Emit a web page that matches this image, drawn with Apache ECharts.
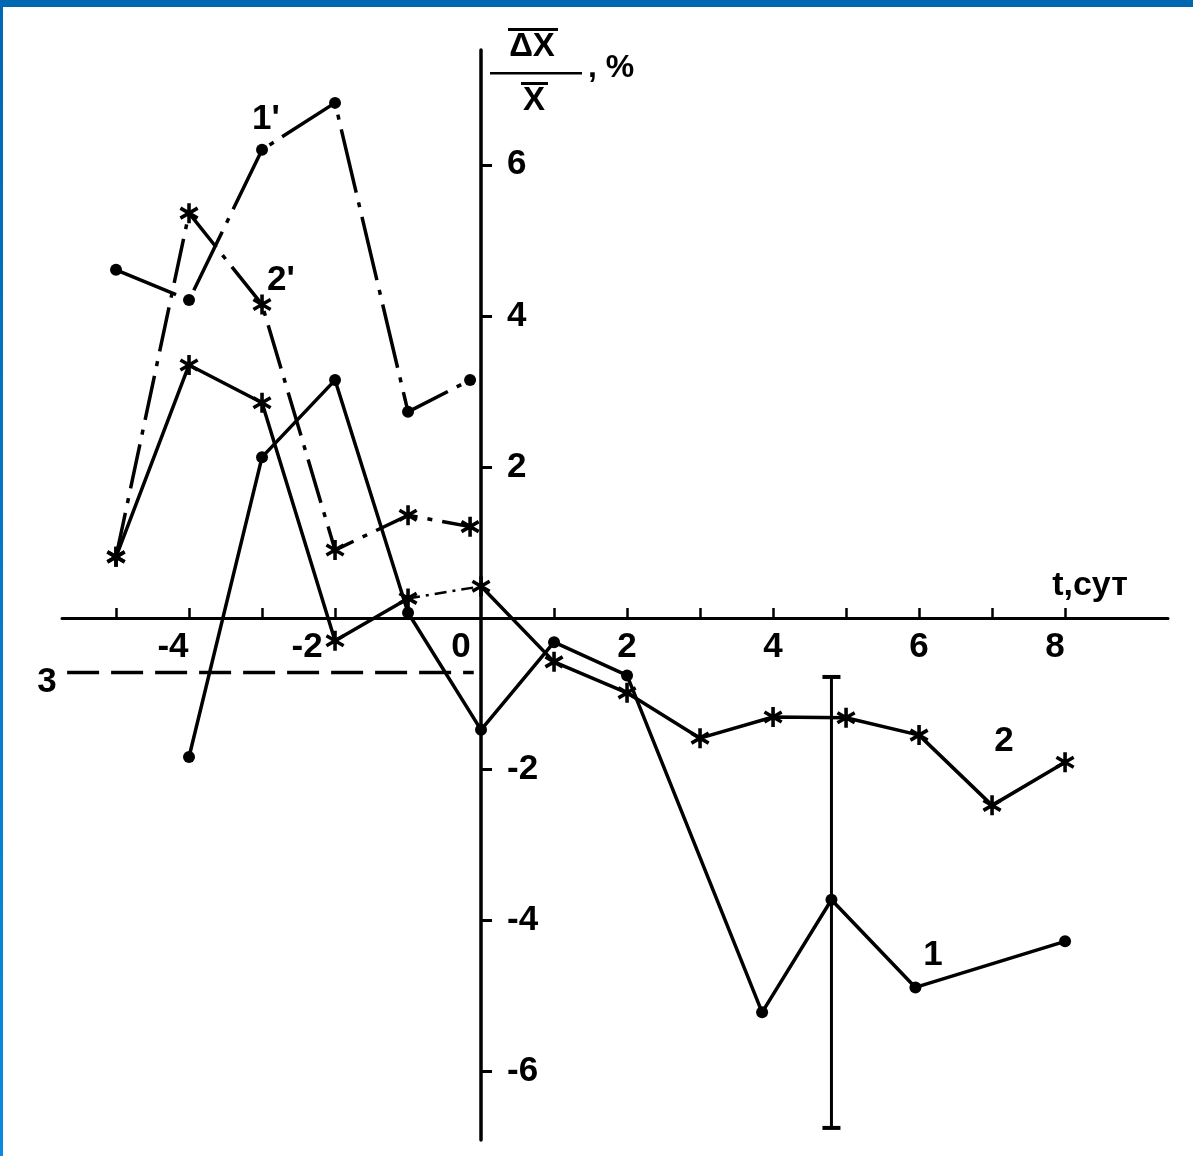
<!DOCTYPE html>
<html>
<head>
<meta charset="utf-8">
<script src="https://cdn.jsdelivr.net/npm/echarts@6/dist/echarts.min.js"></script>
<style>
html,body{margin:0;padding:0;background:#fff;}
#chart{width:1193px;height:1156px;}
</style>
</head>
<body>
<div id="chart"></div>
<script>
// ---- axis ticks / labels ----
const xTickValues = [-5, -4, -3, -2, -1, 1, 2, 3, 4, 5, 6, 7, 8];
const xLabelValues = [-4, -2, 0, 2, 4, 6, 8];
const yTickValues = [-6, -4, -2, 2, 4, 6];
const yLabelValues = [-6, -4, -2, 2, 4, 6];

// ---- curve 1 (solid, dots) ----
const days1 = [-4, -3, -2, -1, 0, 1, 2, 3.85, 4.8, 5.95, 8];
const values1 = [-1.84, 2.13, 3.15, 0.07, -1.48, -0.32, -0.76, -5.22, -3.73, -4.89, -4.28];

// ---- curve 2 (solid, asterisks) ----
const days2 = [-5, -4, -3, -2, -1, 0, 1, 2, 3, 4, 5, 6, 7, 8];
const values2 = [0.81, 3.35, 2.85, -0.30, 0.26, 0.42, -0.58, -0.99, -1.59, -1.31, -1.32, -1.55, -2.48, -1.91];

// ---- curves 1' and 2' (dash-dot) ----
const daysPrime = [-5, -4, -3, -2, -1, -0.15];
const values1Prime = [4.61, 4.21, 6.20, 6.82, 2.73, 3.15];
const values2Prime = [0.81, 5.36, 4.15, 0.90, 1.36, 1.21];

// ---- line 3 (dashed level) ----
const days3 = [-5.67, -0.1];
const values3 = [-0.72, -0.72];

// ---- error bar ----
const errDays = [4.8, 4.8];
const errValues = [-0.78, -6.75];

const pairs = (xs, ys) => xs.map((x, i) => [x, ys[i]]);

const FONT = '"Liberation Sans", Arial, sans-serif';
const STAR = 'path://M-1.8 10 L1.8 10 L1.8 -10 L-1.8 -10 Z M7.76 6.56 L9.56 3.44 L-7.76 -6.56 L-9.56 -3.44 Z M-9.56 3.44 L-7.76 6.56 L9.56 -3.44 L7.76 -6.56 Z';

const W = 1193, H = 1156;
const G = {left: 62, right: 25, top: 50, bottom: 16};
const X_MIN = -5.74, X_MAX = 9.41, Y_MIN = -6.91, Y_MAX = 7.52;
// place the axes through the origin (crossing axes)
const gridW = W - G.left - G.right, gridH = H - G.top - G.bottom;
const xAxisOffset = -(gridH * (0 - Y_MIN) / (Y_MAX - Y_MIN));   // move bottom axis up to y = 0
const yAxisOffset = -(gridW * (0 - X_MIN) / (X_MAX - X_MIN));   // move left axis right to x = 0

const chart = echarts.init(document.getElementById('chart'), null, {renderer: 'canvas'});

const base = {type: 'line', animation: false, silent: true, z: 3};
const labelFont = {fontSize: 35, fontWeight: 'bold', fontFamily: FONT, color: '#000'};

const xShift = {'-4': 'a', '-2': 'b', '0': 'c', '8': 'd'};

const option = {
  animation: false,
  backgroundColor: '#fff',
  grid: {...G, containLabel: false, outerBoundsMode: 'none'},
  xAxis: {
    type: 'value', min: X_MIN, max: X_MAX, position: 'bottom', offset: xAxisOffset,
    axisLine: {onZero: false, lineStyle: {color: '#000', width: 3}},
    axisTick: {show: true, inside: true, length: 10, customValues: xTickValues, lineStyle: {color: '#000', width: 2.5}},
    axisLabel: {
      show: true, customValues: xLabelValues, margin: 12,
      ...labelFont,
      formatter: v => { const k = xShift[String(v)]; return k ? '{' + k + '|' + v + '}' : String(v); },
      rich: {
        a: {...labelFont, padding: [0, 32, 0, 0]},
        b: {...labelFont, padding: [0, 56, 0, 0]},
        c: {...labelFont, padding: [0, 40, 0, 0]},
        d: {...labelFont, padding: [0, 20, 0, 0]}
      }
    },
    splitLine: {show: false}
  },
  yAxis: {
    type: 'value', min: Y_MIN, max: Y_MAX, position: 'left', offset: yAxisOffset,
    axisLine: {onZero: false, lineStyle: {color: '#000', width: 3.5}},
    axisTick: {show: true, inside: true, length: 11, customValues: yTickValues, lineStyle: {color: '#000', width: 3}},
    axisLabel: {show: true, inside: true, customValues: yLabelValues, margin: 26, ...labelFont},
    splitLine: {show: false}
  },
  series: [
    {...base, name: '1', data: pairs(days1, values1), symbol: 'circle', symbolSize: 12,
      lineStyle: {color: '#000', width: 3.5}, itemStyle: {color: '#000'}},
    {...base, name: '2a', data: pairs(days2.slice(0, 5), values2.slice(0, 5)), symbol: STAR, symbolSize: [19, 20],
      lineStyle: {color: '#000', width: 3.5}, itemStyle: {color: '#000'}},
    {...base, name: '2b', data: pairs(days2.slice(4, 6), values2.slice(4, 6)), symbol: 'none',
      lineStyle: {color: '#000', width: 2.5, type: [12, 6, 3, 6]}},
    {...base, name: '2c', data: pairs(days2.slice(5), values2.slice(5)), symbol: STAR, symbolSize: [19, 20],
      lineStyle: {color: '#000', width: 3.5}, itemStyle: {color: '#000'}},
    {...base, name: "1'", data: pairs(daysPrime, values1Prime), symbol: 'circle', symbolSize: 12,
      lineStyle: {color: '#000', width: 3.5, type: [65, 10, 5, 10]}, itemStyle: {color: '#000'}},
    {...base, name: "2'", data: pairs(daysPrime, values2Prime), symbol: STAR, symbolSize: [19, 20],
      lineStyle: {color: '#000', width: 3.5, type: [45, 10, 5, 10]}, itemStyle: {color: '#000'}},
    {...base, name: '3', data: pairs(days3, values3), symbol: 'none',
      lineStyle: {color: '#000', width: 3.5, type: [32, 12]}},
    {...base, name: 'err', data: pairs(errDays, errValues), symbol: 'rect', symbolSize: [18, 4],
      lineStyle: {color: '#000', width: 3}, itemStyle: {color: '#000'}}
  ],
  graphic: [
    // frame
    {type: 'rect', shape: {x: 0, y: 0, width: 1193, height: 7}, style: {fill: '#0067B1'}, z: 100},
    {type: 'rect', shape: {x: 0, y: 0, width: 3, height: 1156},
      style: {fill: {type: 'linear', x: 0, y: 0, x2: 0, y2: 1, colorStops: [{offset: 0, color: '#0067B1'}, {offset: 1, color: '#0A8ADF'}]}}, z: 100},
    // y-axis title: overline(ΔX) / overline(X), %
    {type: 'rect', shape: {x: 508, y: 28, width: 50, height: 3}, style: {fill: '#000'}},
    {type: 'text', x: 532, y: 47, style: {text: 'ΔX', fontSize: 33, fontWeight: 'bold', fontFamily: FONT, fill: '#000', align: 'center', verticalAlign: 'middle', textAlign: 'center', textVerticalAlign: 'middle'}},
    {type: 'rect', shape: {x: 490, y: 72, width: 92, height: 2.5}, style: {fill: '#000'}},
    {type: 'rect', shape: {x: 521, y: 82, width: 27, height: 3}, style: {fill: '#000'}},
    {type: 'text', x: 534, y: 101, style: {text: 'X', fontSize: 33, fontWeight: 'bold', fontFamily: FONT, fill: '#000', align: 'center', verticalAlign: 'middle', textAlign: 'center', textVerticalAlign: 'middle'}},
    {type: 'text', x: 588, y: 68, style: {text: ', %', fontSize: 32, fontWeight: 'bold', fontFamily: FONT, fill: '#000', align: 'left', verticalAlign: 'middle', textAlign: 'left', textVerticalAlign: 'middle'}},
    // x-axis title
    {type: 'text', x: 1090, y: 586, style: {text: 't,сут', fontSize: 34, fontWeight: 'bold', fontFamily: FONT, fill: '#000', align: 'center', verticalAlign: 'middle', textAlign: 'center', textVerticalAlign: 'middle'}},
    // curve labels
    {type: 'text', x: 266, y: 119, style: {text: "1'", fontSize: 35, fontWeight: 'bold', fontFamily: FONT, fill: '#000', align: 'center', verticalAlign: 'middle', textAlign: 'center', textVerticalAlign: 'middle'}},
    {type: 'text', x: 281, y: 280, style: {text: "2'", fontSize: 35, fontWeight: 'bold', fontFamily: FONT, fill: '#000', align: 'center', verticalAlign: 'middle', textAlign: 'center', textVerticalAlign: 'middle'}},
    {type: 'text', x: 933, y: 955, style: {text: '1', fontSize: 35, fontWeight: 'bold', fontFamily: FONT, fill: '#000', align: 'center', verticalAlign: 'middle', textAlign: 'center', textVerticalAlign: 'middle'}},
    {type: 'text', x: 1004, y: 741, style: {text: '2', fontSize: 35, fontWeight: 'bold', fontFamily: FONT, fill: '#000', align: 'center', verticalAlign: 'middle', textAlign: 'center', textVerticalAlign: 'middle'}},
    {type: 'text', x: 47, y: 682, style: {text: '3', fontSize: 35, fontWeight: 'bold', fontFamily: FONT, fill: '#000', align: 'center', verticalAlign: 'middle', textAlign: 'center', textVerticalAlign: 'middle'}}
  ]
};
chart.setOption(option);
</script>
</body>
</html>
